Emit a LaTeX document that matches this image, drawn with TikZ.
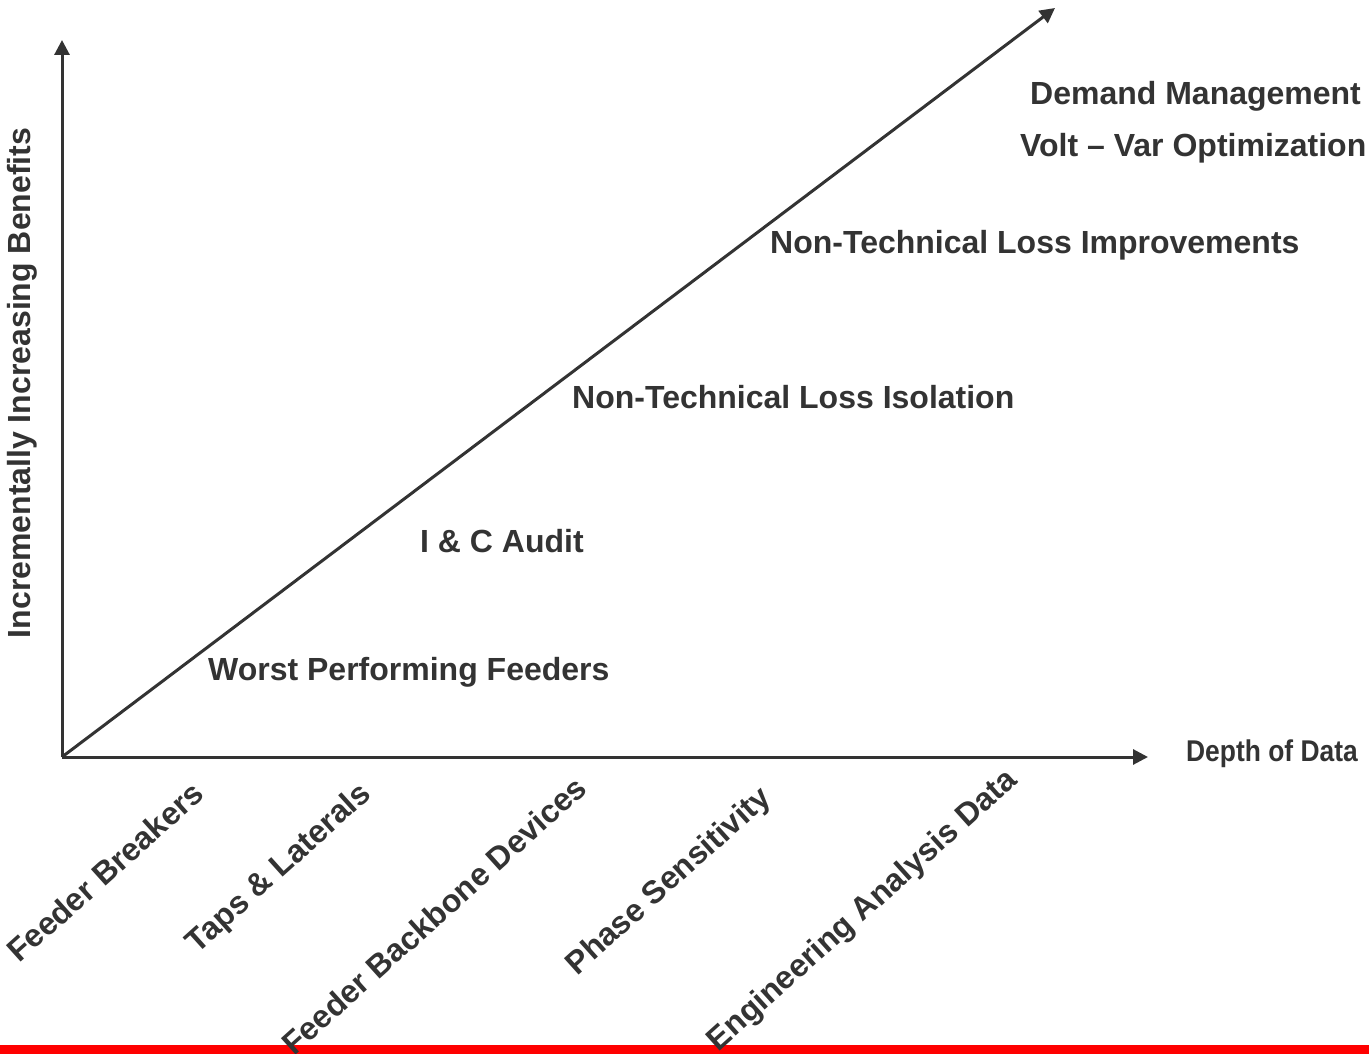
\documentclass[tikz,border=0pt]{standalone}
\usepackage{fontspec}
\setmainfont{Liberation Sans}
\usepackage{tikz}
\usetikzlibrary{arrows.meta}
\definecolor{inkgray}{HTML}{333333}
\definecolor{barred}{HTML}{FF0000}
\tikzset{
   axis/.style={draw=inkgray, line width=3pt,
      -{Triangle[length=15pt,width=15pt]}},
   benefit/.style={inkgray, inner sep=0pt, anchor=base west,
      font=\fontsize{32}{36}\selectfont\bfseries},
   datalbl/.style={inkgray, inner sep=0pt, anchor=base east, rotate=42,
      font=\fontsize{32}{36}\selectfont\bfseries},
   }
\begin{document}
\begin{tikzpicture}[x=1pt,y=-1pt]
            \useasboundingbox (0,0) rectangle (1369,1054);
            \fill[barred] (0,1045) rectangle (1369,1054);
            \coordinate (O) at (62,757);
            \coordinate (ytip) at (62,40);
            \coordinate (xtip) at (1148,757);
            \coordinate (dtip) at (1055,8);
            \draw[axis] (O) -- (ytip);
            \draw[axis] (O) -- (xtip);
            \draw[axis] (O) -- (dtip);
            % benefits along the diagonal
            \node[benefit] (wpf) at (208,680) {Worst Performing Feeders};
            \node[benefit] (ica) at (420,552) {I \& C Audit};
            \node[benefit] (ntli) at (572,408) {Non-Technical Loss Isolation};
            \node[benefit] (ntlm) at (770,253) {Non-Technical Loss Improvements};
            \node[benefit] (dm) at (1030,105) {Demand Management};
            \node[benefit] (vvo) at (1020,157) {Volt -- Var Optimization};
            % axis titles
            \node[inkgray, inner sep=0pt, anchor=base west, xscale=0.88,
               font=\fontsize{30}{33}\selectfont\bfseries] (depth) at (1186,761) {Depth of Data};
            \node[inkgray, inner sep=0pt, rotate=90,
               font=\fontsize{32}{36}\selectfont\bfseries] (ben) at (22,383) {Incrementally Increasing Benefits};
            % data depth levels
            \node[datalbl] (fb) at (206,796) {Feeder Breakers};
            \node[datalbl] (tl) at (373,796) {Taps \& Laterals};
            \node[datalbl] (fbd) at (589,791) {Feeder Backbone Devices};
            \node[datalbl] (ps) at (773,800) {Phase Sensitivity};
            \node[datalbl] (ead) at (1019,782) {Engineering Analysis Data};
        \end{tikzpicture}
\end{document}
